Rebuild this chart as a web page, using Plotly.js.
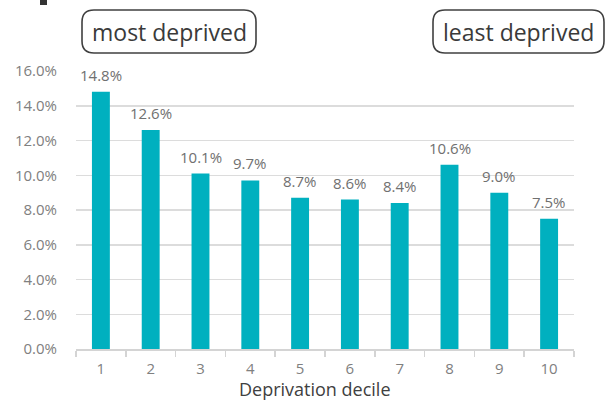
<!DOCTYPE html>
<html>
<head>
<meta charset="utf-8">
<script src="https://cdn.plot.ly/plotly-3.0.1.min.js"></script>
<style>
  html, body { margin: 0; padding: 0; background: #ffffff; }
  #chart { width: 606px; height: 401px; }
</style>
</head>
<body>
<div id="chart"></div>
<script>
// Share of people by deprivation decile (1 = most deprived, 10 = least deprived)
const deciles = ['1', '2', '3', '4', '5', '6', '7', '8', '9', '10'];
const shares = [14.8, 12.6, 10.1, 9.7, 8.7, 8.6, 8.4, 10.6, 9.0, 7.5];
const yTicks = [0, 2, 4, 6, 8, 10, 12, 14, 16];
const endLabels = ['most deprived', 'least deprived'];
const axisTitle = 'Deprivation decile';

const FONT = '"Open Sans", "DejaVu Sans", sans-serif';
const BAR = '#00b0bf';

// Plot frame in pixels
const W = 606, H = 401;
const M = { l: 76, r: 32, t: 71, b: 52 };
const PW = W - M.l - M.r, PH = H - M.t - M.b;
const px = x => (x - M.l) / PW;              // pixel -> paper x
const py = y => (H - M.b - y) / PH;          // pixel -> paper y

// Rounded rectangle path in paper coordinates, built from pixel corners
function roundedBox(x0, x1, y0, y1, r) {
  const X = v => px(v).toFixed(5), Y = v => py(v).toFixed(5);
  return 'M' + X(x0 + r) + ',' + Y(y0) +
    ' L' + X(x1 - r) + ',' + Y(y0) +
    ' Q' + X(x1) + ',' + Y(y0) + ' ' + X(x1) + ',' + Y(y0 + r) +
    ' L' + X(x1) + ',' + Y(y1 - r) +
    ' Q' + X(x1) + ',' + Y(y1) + ' ' + X(x1 - r) + ',' + Y(y1) +
    ' L' + X(x0 + r) + ',' + Y(y1) +
    ' Q' + X(x0) + ',' + Y(y1) + ' ' + X(x0) + ',' + Y(y1 - r) +
    ' L' + X(x0) + ',' + Y(y0 + r) +
    ' Q' + X(x0) + ',' + Y(y0) + ' ' + X(x0 + r) + ',' + Y(y0) + ' Z';
}

const boxes = [
  { x0: 82, x1: 256, y0: 10, y1: 53, text: endLabels[0] },
  { x0: 433, x1: 604, y0: 10, y1: 53, text: endLabels[1] }
];

const shapes = boxes.map(b => ({
  type: 'path', xref: 'paper', yref: 'paper',
  path: roundedBox(b.x0, b.x1, b.y0, b.y1, 12),
  line: { color: '#404040', width: 1.6 },
  fillcolor: 'rgba(0,0,0,0)', layer: 'above'
}));

// Stem of the heading letter that runs off the top edge
shapes.push({
  type: 'rect', xref: 'paper', yref: 'paper',
  x0: px(40), x1: px(47), y0: py(5), y1: py(-2),
  line: { width: 0 }, fillcolor: '#333333', layer: 'above'
});

const annotations = [];
boxes.forEach(b => annotations.push({
  xref: 'paper', yref: 'paper',
  x: px((b.x0 + b.x1) / 2), y: py((b.y0 + b.y1) / 2),
  xanchor: 'center', yanchor: 'middle', showarrow: false,
  text: b.text, font: { family: FONT, size: 23, color: '#3a3a3a' }
}));

// Value labels above each bar (category axis positions are indices)
deciles.forEach((d, i) => annotations.push({
  x: i, y: shares[i], xref: 'x', yref: 'y',
  text: shares[i].toFixed(1) + '%', showarrow: false,
  xanchor: 'center', yanchor: 'middle', yshift: 17,
  font: { family: FONT, size: 15, color: '#707070' }
}));

// Axis title
annotations.push({
  xref: 'paper', yref: 'paper', x: px(315), y: py(389),
  xanchor: 'center', yanchor: 'middle', showarrow: false,
  text: axisTitle, font: { family: FONT, size: 18, color: '#404040' }
});

const trace = {
  type: 'bar', x: deciles, y: shares,
  marker: { color: BAR, line: { width: 0 } },
  width: 0.36, hoverinfo: 'skip'
};

const layout = {
  width: W, height: H,
  margin: M,
  paper_bgcolor: '#ffffff', plot_bgcolor: '#ffffff',
  showlegend: false,
  font: { family: FONT },
  xaxis: {
    type: 'category', range: [-0.5, 9.5],
    showgrid: false, zeroline: false,
    showline: true, linecolor: '#d4d4d4', linewidth: 1.5,
    ticks: 'outside', tickson: 'boundaries', ticklen: 6, tickwidth: 1.5, tickcolor: '#d4d4d4',
    ticklabelstandoff: 5,
    tickfont: { family: FONT, size: 15, color: '#808080' },
    fixedrange: true
  },
  yaxis: {
    range: [0, 16], tickmode: 'array', tickvals: yTicks,
    ticktext: yTicks.map(v => v.toFixed(1) + '%'),
    showgrid: true, gridcolor: '#dcdcdc', gridwidth: 1.5,
    zeroline: false, showline: false, ticks: '',
    ticklabelstandoff: 18,
    tickfont: { family: FONT, size: 15, color: '#808080' },
    fixedrange: true
  },
  shapes: shapes,
  annotations: annotations
};

Plotly.newPlot('chart', [trace], layout, { displayModeBar: false, staticPlot: true });
</script>
</body>
</html>
